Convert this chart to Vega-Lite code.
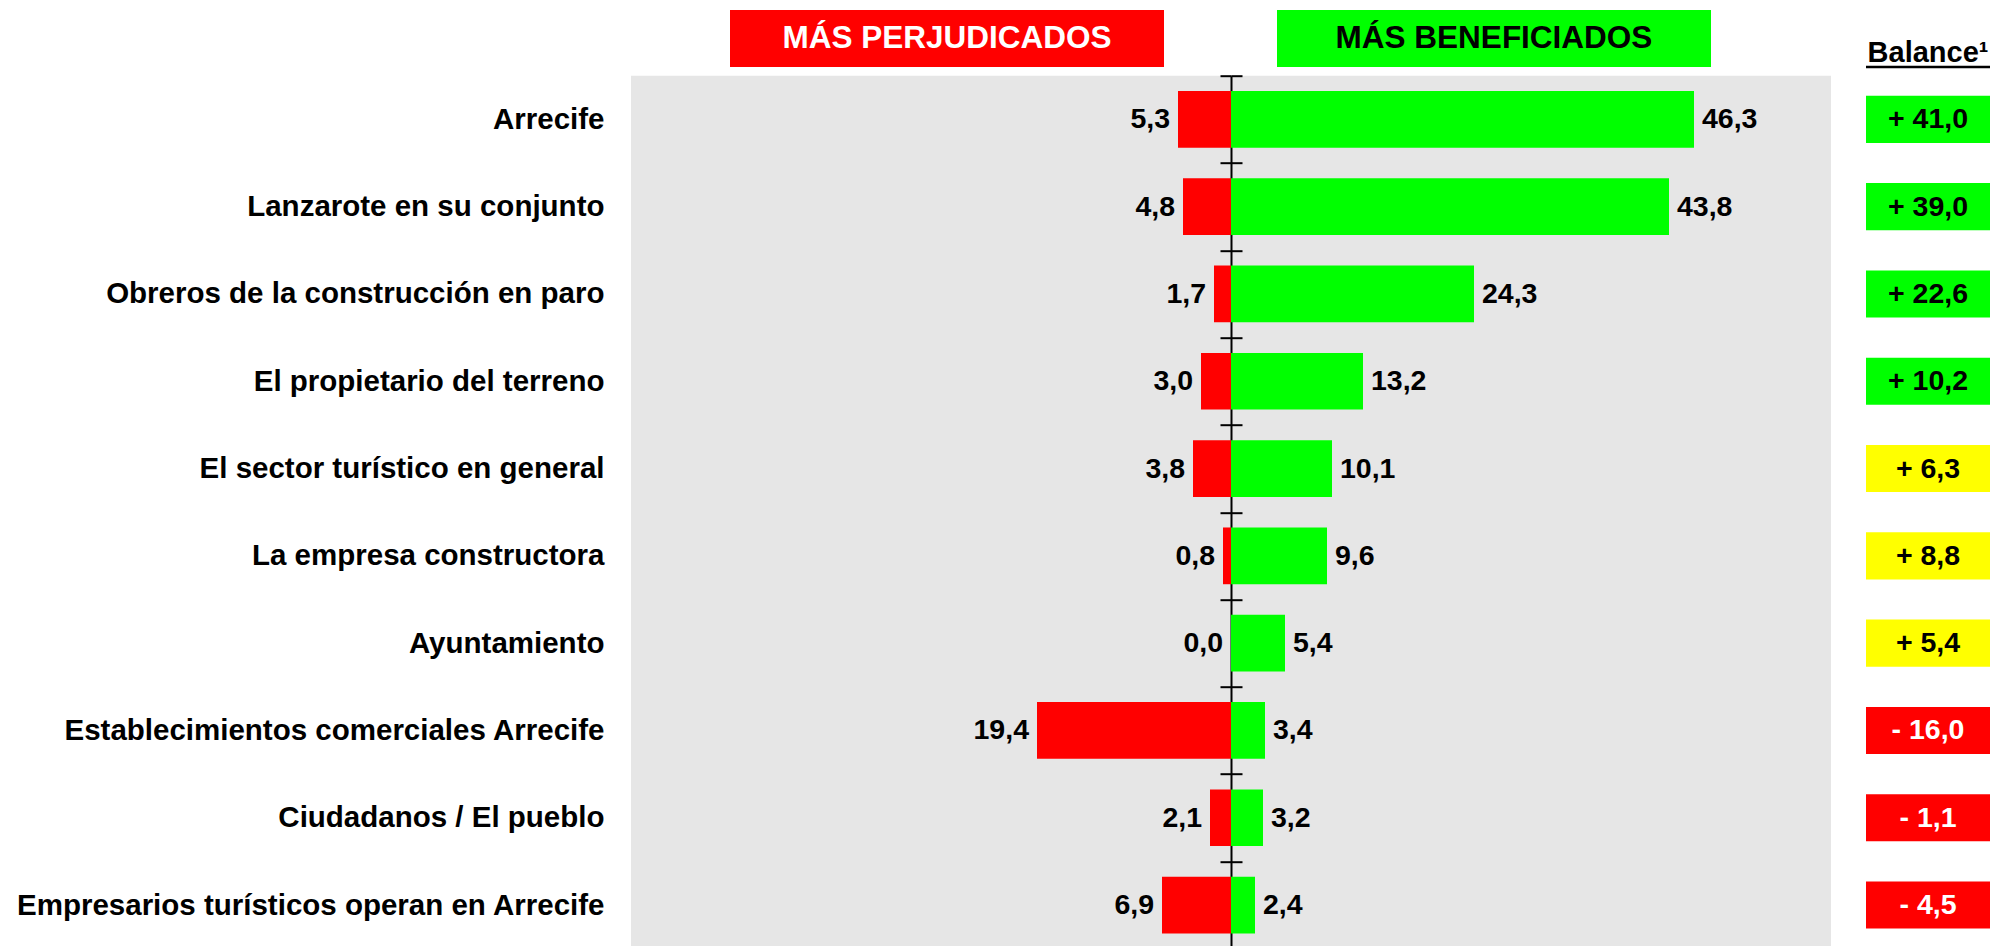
{
  "$schema": "https://vega.github.io/schema/vega-lite/v6.json",
  "padding": {"left": 15, "top": 10, "right": 0, "bottom": 0},
  "background": "white",
  "config": {
    "view": {"stroke": null},
    "font": "Liberation Sans",
    "locale": {"number": {"decimal": ",", "thousands": ".", "grouping": [3], "currency": ["", " €"]}}
  },
  "datasets": {
    "filas": [
      {"actor": "Arrecife", "beneficiados": 46.3, "perjudicados": 5.3, "balance": 41.0, "etiqueta": "+ 41,0"},
      {"actor": "Lanzarote en su conjunto", "beneficiados": 43.8, "perjudicados": 4.8, "balance": 39.0, "etiqueta": "+ 39,0"},
      {"actor": "Obreros de la construcción en paro", "beneficiados": 24.3, "perjudicados": 1.7, "balance": 22.6, "etiqueta": "+ 22,6"},
      {"actor": "El propietario del terreno", "beneficiados": 13.2, "perjudicados": 3.0, "balance": 10.2, "etiqueta": "+ 10,2"},
      {"actor": "El sector turístico en general", "beneficiados": 10.1, "perjudicados": 3.8, "balance": 6.3, "etiqueta": "+ 6,3"},
      {"actor": "La empresa constructora", "beneficiados": 9.6, "perjudicados": 0.8, "balance": 8.8, "etiqueta": "+ 8,8"},
      {"actor": "Ayuntamiento", "beneficiados": 5.4, "perjudicados": 0.0, "balance": 5.4, "etiqueta": "+ 5,4"},
      {"actor": "Establecimientos comerciales Arrecife", "beneficiados": 3.4, "perjudicados": 19.4, "balance": -16.0, "etiqueta": "- 16,0"},
      {"actor": "Ciudadanos / El pueblo", "beneficiados": 3.2, "perjudicados": 2.1, "balance": -1.1, "etiqueta": "- 1,1"},
      {"actor": "Empresarios turísticos operan en Arrecife", "beneficiados": 2.4, "perjudicados": 6.9, "balance": -4.5, "etiqueta": "- 4,5"}
    ]
  },
  "spacing": 33,
  "hconcat": [
    {
      "spacing": 8.7,
      "bounds": "flush",
      "vconcat": [
        {
          "width": 1200,
          "height": 57,
          "data": {"values": [{}]},
          "layer": [
            {
              "mark": {"type": "rect", "color": "#ff0000"},
              "encoding": {
                "x": {"datum": -50.1, "type": "quantitative", "scale": {"domain": [-60, 60], "nice": false}, "axis": null},
                "x2": {"datum": -6.7}
              }
            },
            {
              "mark": {"type": "rect", "color": "#00ff00"},
              "encoding": {
                "x": {"datum": 4.6, "type": "quantitative"},
                "x2": {"datum": 48.0}
              }
            },
            {
              "mark": {"type": "text", "fontSize": 31.5, "fontWeight": "bold", "color": "white", "align": "center", "baseline": "middle"},
              "encoding": {
                "x": {"datum": -28.4, "type": "quantitative"},
                "text": {"value": "MÁS PERJUDICADOS"}
              }
            },
            {
              "mark": {"type": "text", "fontSize": 31.5, "fontWeight": "bold", "color": "black", "align": "center", "baseline": "middle"},
              "encoding": {
                "x": {"datum": 26.3, "type": "quantitative"},
                "text": {"value": "MÁS BENEFICIADOS"}
              }
            }
          ]
        },
        {
          "width": 1200,
          "height": 873,
          "view": {"fill": "#e6e6e6", "stroke": null},
          "data": {"name": "filas"},
          "layer": [
            {
              "mark": {"type": "bar", "color": "#00ff00", "height": {"band": 0.65}},
              "encoding": {
                "y": {
                  "field": "actor", "type": "nominal", "sort": null,
                  "scale": {"paddingInner": 0, "paddingOuter": 0},
                  "axis": {
                    "orient": "left", "offset": -600, "title": null,
                    "domain": true, "domainColor": "black", "domainWidth": 2,
                    "ticks": true, "tickBand": "extent", "tickSize": 11, "tickColor": "black", "tickWidth": 2,
                    "labelPadding": 616, "labelFontSize": 29.5, "labelFont": "Liberation Sans",
                    "labelFontWeight": "bold", "labelColor": "black", "labelLimit": 1000
                  }
                },
                "x": {"field": "beneficiados", "type": "quantitative", "scale": {"domain": [-60, 60], "nice": false}, "axis": null}
              }
            },
            {
              "mark": {"type": "text", "align": "left", "baseline": "middle", "dx": 8, "fontSize": 28.5, "fontWeight": "bold", "color": "black"},
              "encoding": {
                "y": {"field": "actor", "type": "nominal", "sort": null, "axis": null},
                "x": {"field": "beneficiados", "type": "quantitative", "scale": {"domain": [-60, 60], "nice": false}, "axis": null},
                "text": {"field": "beneficiados", "type": "quantitative", "format": ".1f"}
              }
            },
            {
              "mark": {"type": "bar", "color": "#ff0000", "height": {"band": 0.65}},
              "encoding": {
                "y": {
                  "field": "actor", "type": "nominal", "sort": null,
                  "axis": {
                    "orient": "right", "offset": -600, "title": null,
                    "domain": false, "labels": false,
                    "ticks": true, "tickBand": "extent", "tickSize": 11, "tickColor": "black", "tickWidth": 2
                  }
                },
                "x": {"field": "perjudicados", "type": "quantitative", "scale": {"domain": [-60, 60], "nice": false, "reverse": true}, "axis": null}
              }
            },
            {
              "mark": {"type": "text", "align": "right", "baseline": "middle", "dx": -8, "fontSize": 28.5, "fontWeight": "bold", "color": "black"},
              "encoding": {
                "y": {"field": "actor", "type": "nominal", "sort": null, "axis": null},
                "x": {"field": "perjudicados", "type": "quantitative", "scale": {"domain": [-60, 60], "nice": false, "reverse": true}, "axis": null},
                "text": {"field": "perjudicados", "type": "quantitative", "format": ".1f"}
              }
            }
          ],
          "resolve": {"scale": {"x": "independent"}, "axis": {"y": "independent"}}
        }
      ]
    },
    {
      "spacing": 8.7,
      "bounds": "flush",
      "vconcat": [
        {
          "width": 124,
          "height": 57,
          "data": {"values": [{}]},
          "layer": [
            {
              "mark": {"type": "text", "fontSize": 29, "fontWeight": "bold", "color": "black", "align": "center", "baseline": "alphabetic"},
              "encoding": {
                "y": {"datum": 0.08, "type": "quantitative", "scale": {"domain": [0, 1]}, "axis": null},
                "text": {"value": "Balance¹"}
              }
            },
            {
              "mark": {"type": "rule", "color": "black", "strokeWidth": 2.5},
              "encoding": {
                "y": {"datum": 0, "type": "quantitative"}
              }
            }
          ]
        },
        {
          "width": 124,
          "height": 873,
          "data": {"name": "filas"},
          "encoding": {
            "y": {"field": "actor", "type": "nominal", "sort": null, "scale": {"paddingInner": 0.46, "paddingOuter": 0.23}, "axis": null}
          },
          "layer": [
            {
              "mark": {"type": "rect"},
              "encoding": {
                "x": {"datum": 0, "type": "quantitative", "scale": {"domain": [0, 1]}, "axis": null},
                "x2": {"datum": 1},
                "color": {"field": "balance", "type": "quantitative", "scale": {"type": "threshold", "domain": [0, 10], "range": ["#ff0000", "#ffff00", "#00ff00"]}, "legend": null}
              }
            },
            {
              "mark": {"type": "text", "fontSize": 28.5, "fontWeight": "bold", "align": "center", "baseline": "middle"},
              "encoding": {
                "x": {"datum": 0.5, "type": "quantitative"},
                "text": {"field": "etiqueta", "type": "nominal"},
                "color": {"condition": {"test": "datum.balance < 0", "value": "white"}, "value": "black"}
              }
            }
          ]
        }
      ]
    }
  ]
}
